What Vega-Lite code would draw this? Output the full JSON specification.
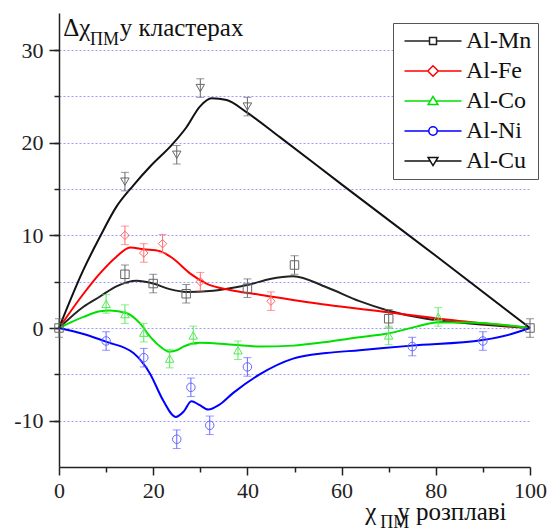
{
  "$schema": "https://vega.github.io/schema/vega-lite/v6.json",
  "width": 471,
  "height": 454,
  "autosize": {"type": "none"},
  "padding": {"left": 59, "top": 13, "right": 18, "bottom": 62},
  "background": "white",
  "config": {"view": {"stroke": null}, "font": "Liberation Serif, DejaVu Serif, serif"},
  "datasets": {
    "pts": [
      {"s": "Al-Mn", "x": 0, "y": 0, "e": 1},
      {"s": "Al-Mn", "x": 14, "y": 5.8, "e": 1},
      {"s": "Al-Mn", "x": 20, "y": 4.8, "e": 1},
      {"s": "Al-Mn", "x": 27, "y": 3.7, "e": 1},
      {"s": "Al-Mn", "x": 40, "y": 4.3, "e": 1},
      {"s": "Al-Mn", "x": 50, "y": 6.8, "e": 1},
      {"s": "Al-Mn", "x": 70, "y": 1.0, "e": 1},
      {"s": "Al-Mn", "x": 100, "y": 0, "e": 1},
      {"s": "Al-Fe", "x": 14, "y": 10.0, "e": 1},
      {"s": "Al-Fe", "x": 18, "y": 8.1, "e": 1},
      {"s": "Al-Fe", "x": 22, "y": 9.1, "e": 1},
      {"s": "Al-Fe", "x": 30, "y": 5.0, "e": 1},
      {"s": "Al-Fe", "x": 45, "y": 2.9, "e": 1},
      {"s": "Al-Co", "x": 10, "y": 2.6, "e": 1},
      {"s": "Al-Co", "x": 14, "y": 1.5, "e": 1},
      {"s": "Al-Co", "x": 18, "y": -0.5, "e": 1},
      {"s": "Al-Co", "x": 23.5, "y": -3.3, "e": 1},
      {"s": "Al-Co", "x": 28.5, "y": -0.8, "e": 1},
      {"s": "Al-Co", "x": 38, "y": -2.4, "e": 1},
      {"s": "Al-Co", "x": 70, "y": -0.8, "e": 1},
      {"s": "Al-Co", "x": 80.5, "y": 1.2, "e": 1},
      {"s": "Al-Ni", "x": 10, "y": -1.4, "e": 1},
      {"s": "Al-Ni", "x": 18, "y": -3.2, "e": 1},
      {"s": "Al-Ni", "x": 25, "y": -12.0, "e": 1},
      {"s": "Al-Ni", "x": 28, "y": -6.4, "e": 1},
      {"s": "Al-Ni", "x": 32, "y": -10.5, "e": 1},
      {"s": "Al-Ni", "x": 40, "y": -4.2, "e": 1},
      {"s": "Al-Ni", "x": 75, "y": -2.0, "e": 1},
      {"s": "Al-Ni", "x": 90, "y": -1.4, "e": 1},
      {"s": "Al-Cu", "x": 14, "y": 15.8, "e": 1},
      {"s": "Al-Cu", "x": 25, "y": 18.7, "e": 1},
      {"s": "Al-Cu", "x": 30, "y": 25.9, "e": 1},
      {"s": "Al-Cu", "x": 40, "y": 23.9, "e": 1}
    ],
    "curves": [
      {"s": "Al-Mn", "x": 0, "y": 0}, {"s": "Al-Mn", "x": 5.2, "y": 2.3}, {"s": "Al-Mn", "x": 8.7, "y": 3.4},
      {"s": "Al-Mn", "x": 12.2, "y": 4.5}, {"s": "Al-Mn", "x": 16.5, "y": 5.1},
      {"s": "Al-Mn", "x": 20, "y": 4.8}, {"s": "Al-Mn", "x": 23.5, "y": 4.2}, {"s": "Al-Mn", "x": 27.1, "y": 3.9},
      {"s": "Al-Mn", "x": 32, "y": 4.0}, {"s": "Al-Mn", "x": 36.3, "y": 4.3}, {"s": "Al-Mn", "x": 40.5, "y": 4.7},
      {"s": "Al-Mn", "x": 44.8, "y": 5.3}, {"s": "Al-Mn", "x": 49.7, "y": 5.6}, {"s": "Al-Mn", "x": 56.8, "y": 4.4},
      {"s": "Al-Mn", "x": 63.8, "y": 2.9}, {"s": "Al-Mn", "x": 69.8, "y": 1.9}, {"s": "Al-Mn", "x": 78, "y": 1.0},
      {"s": "Al-Mn", "x": 85, "y": 0.6}, {"s": "Al-Mn", "x": 100, "y": 0},
      {"s": "Al-Fe", "x": 0, "y": 0}, {"s": "Al-Fe", "x": 5.2, "y": 3.7}, {"s": "Al-Fe", "x": 8.7, "y": 5.9},
      {"s": "Al-Fe", "x": 12.2, "y": 7.7}, {"s": "Al-Fe", "x": 15.1, "y": 8.7},
      {"s": "Al-Fe", "x": 17.9, "y": 8.5}, {"s": "Al-Fe", "x": 21.4, "y": 8.3}, {"s": "Al-Fe", "x": 24.2, "y": 7.5},
      {"s": "Al-Fe", "x": 27.8, "y": 5.9}, {"s": "Al-Fe", "x": 31.3, "y": 4.8}, {"s": "Al-Fe", "x": 36.3, "y": 4.1},
      {"s": "Al-Fe", "x": 42.6, "y": 3.6}, {"s": "Al-Fe", "x": 56.8, "y": 2.5}, {"s": "Al-Fe", "x": 69.8, "y": 1.7},
      {"s": "Al-Fe", "x": 80.8, "y": 1.0}, {"s": "Al-Fe", "x": 92, "y": 0.4}, {"s": "Al-Fe", "x": 100, "y": 0},
      {"s": "Al-Co", "x": 0, "y": 0}, {"s": "Al-Co", "x": 5.2, "y": 1.2}, {"s": "Al-Co", "x": 8.7, "y": 1.8},
      {"s": "Al-Co", "x": 10.8, "y": 1.9}, {"s": "Al-Co", "x": 14.4, "y": 1.6}, {"s": "Al-Co", "x": 17.2, "y": 0.5},
      {"s": "Al-Co", "x": 19.3, "y": -0.9}, {"s": "Al-Co", "x": 21.5, "y": -2.0},
      {"s": "Al-Co", "x": 23.4, "y": -2.55}, {"s": "Al-Co", "x": 25, "y": -2.4}, {"s": "Al-Co", "x": 26.4, "y": -2.0},
      {"s": "Al-Co", "x": 29.9, "y": -1.6}, {"s": "Al-Co", "x": 37, "y": -1.8}, {"s": "Al-Co", "x": 42.6, "y": -2.0},
      {"s": "Al-Co", "x": 49.7, "y": -1.9}, {"s": "Al-Co", "x": 56.8, "y": -1.5}, {"s": "Al-Co", "x": 63.8, "y": -1.0},
      {"s": "Al-Co", "x": 69.8, "y": -0.6}, {"s": "Al-Co", "x": 75.9, "y": 0.15}, {"s": "Al-Co", "x": 80.1, "y": 0.6},
      {"s": "Al-Co", "x": 86.5, "y": 0.6}, {"s": "Al-Co", "x": 100, "y": 0},
      {"s": "Al-Ni", "x": 0, "y": 0}, {"s": "Al-Ni", "x": 5.2, "y": -0.65}, {"s": "Al-Ni", "x": 10.1, "y": -1.5},
      {"s": "Al-Ni", "x": 15.8, "y": -2.7}, {"s": "Al-Ni", "x": 19.3, "y": -4.9}, {"s": "Al-Ni", "x": 22.1, "y": -7.8},
      {"s": "Al-Ni", "x": 24.8, "y": -9.6}, {"s": "Al-Ni", "x": 26.5, "y": -9.0}, {"s": "Al-Ni", "x": 28.1, "y": -7.9},
      {"s": "Al-Ni", "x": 29.8, "y": -8.3}, {"s": "Al-Ni", "x": 31.7, "y": -8.8}, {"s": "Al-Ni", "x": 34, "y": -8.3},
      {"s": "Al-Ni", "x": 37, "y": -7.0}, {"s": "Al-Ni", "x": 42.6, "y": -5.0}, {"s": "Al-Ni", "x": 49.7, "y": -3.3},
      {"s": "Al-Ni", "x": 56.8, "y": -2.7}, {"s": "Al-Ni", "x": 63.8, "y": -2.4}, {"s": "Al-Ni", "x": 74.9, "y": -1.9},
      {"s": "Al-Ni", "x": 89.9, "y": -1.3}, {"s": "Al-Ni", "x": 96.4, "y": -0.6}, {"s": "Al-Ni", "x": 100, "y": 0},
      {"s": "Al-Cu", "x": 0, "y": 0}, {"s": "Al-Cu", "x": 5.2, "y": 6.3}, {"s": "Al-Cu", "x": 8.7, "y": 9.85},
      {"s": "Al-Cu", "x": 12.2, "y": 13.1}, {"s": "Al-Cu", "x": 15.8, "y": 15.4}, {"s": "Al-Cu", "x": 19.3, "y": 17.4},
      {"s": "Al-Cu", "x": 24.2, "y": 19.9}, {"s": "Al-Cu", "x": 27.1, "y": 21.7}, {"s": "Al-Cu", "x": 29.9, "y": 23.9},
      {"s": "Al-Cu", "x": 32.4, "y": 24.8}, {"s": "Al-Cu", "x": 35.6, "y": 24.6}, {"s": "Al-Cu", "x": 39.8, "y": 23.3},
      {"s": "Al-Cu", "x": 46.9, "y": 20.6}, {"s": "Al-Cu", "x": 60, "y": 15.5}, {"s": "Al-Cu", "x": 80, "y": 7.8},
      {"s": "Al-Cu", "x": 100, "y": 0}
    ]
  },
  "resolve": {
    "scale": {"color": "independent", "shape": "independent"},
    "axis": {"x": "independent", "y": "independent"}
  },
  "layer": [
    {
      "data": {"name": "curves"},
      "mark": {"type": "line", "interpolate": "monotone", "strokeWidth": 2},
      "encoding": {
        "x": {"field": "x", "type": "quantitative", "scale": {"domain": [0, 100], "nice": false, "zero": false},
          "axis": {"orient": "bottom", "values": [0, 20, 40, 60, 80, 100], "title": null, "grid": false,
            "tickSize": 8, "tickWidth": 1.5, "tickColor": "#222", "domainColor": "#222", "domainWidth": 1.5,
            "labelFont": "Liberation Serif, DejaVu Serif, serif", "labelFontSize": 22, "labelColor": "#222", "labelPadding": 5, "labelFlush": false}},
        "y": {"field": "y", "type": "quantitative", "scale": {"domain": [-15, 34], "nice": false, "zero": false},
          "axis": {"orient": "left", "values": [-10, 0, 10, 20, 30], "title": null, "grid": false,
            "tickSize": 10, "tickWidth": 1.5, "tickColor": "#222", "domainColor": "#222", "domainWidth": 1.5,
            "labelFont": "Liberation Serif, DejaVu Serif, serif", "labelFontSize": 22, "labelColor": "#222", "labelPadding": 6,
            "labelExpr": "'' + datum.value"}},
        "color": {"field": "s", "type": "nominal", "legend": null,
          "scale": {"domain": ["Al-Mn", "Al-Fe", "Al-Co", "Al-Ni", "Al-Cu"], "range": ["#222222", "#ff0000", "#00e000", "#0000ff", "#111111"]}},
        "detail": {"field": "s"}
      }
    },
    {
      "data": {"name": "pts"},
      "mark": {"type": "errorbar", "ticks": {"size": 8}, "thickness": 1},
      "encoding": {
        "x": {"field": "x", "type": "quantitative",
          "axis": {"orient": "bottom", "values": [10, 30, 50, 70, 90], "title": null, "labels": false, "domain": false, "grid": false,
            "tickSize": 5, "tickWidth": 1.5, "tickColor": "#222"}},
        "y": {"field": "y", "type": "quantitative",
          "axis": {"orient": "left", "values": [-10, -5, 0, 5, 10, 15, 20, 25, 30], "title": null, "labels": false, "domain": false,
            "grid": true, "gridColor": "#9a9aff", "gridDash": [2, 2], "gridWidth": 1,
            "tickSize": 5, "tickWidth": 1.5, "tickColor": "#222"}},
        "yError": {"field": "e"},
        "color": {"field": "s", "type": "nominal", "legend": null,
          "scale": {"domain": ["Al-Mn", "Al-Fe", "Al-Co", "Al-Ni", "Al-Cu"], "range": ["#666666", "#ff6b6b", "#55e855", "#6666ff", "#666666"]}}
      }
    },
    {
      "data": {"name": "pts"},
      "mark": {"type": "point", "filled": false, "size": 72, "strokeWidth": 1, "opacity": 1, "fill": "white", "fillOpacity": 0},
      "encoding": {
        "x": {"field": "x", "type": "quantitative", "axis": null},
        "y": {"field": "y", "type": "quantitative", "axis": null},
        "color": {"field": "s", "type": "nominal", "legend": null,
          "scale": {"domain": ["Al-Mn", "Al-Fe", "Al-Co", "Al-Ni", "Al-Cu"], "range": ["#666666", "#ff6b6b", "#55e855", "#6666ff", "#666666"]}},
        "shape": {"field": "s", "type": "nominal", "legend": null,
          "scale": {"domain": ["Al-Mn", "Al-Fe", "Al-Co", "Al-Ni", "Al-Cu"], "range": ["square", "diamond", "triangle-up", "circle", "triangle-down"]}}
      }
    },
    {
      "data": {"name": "pts"},
      "mark": {"type": "point", "filled": false, "opacity": 0, "strokeWidth": 1.5},
      "encoding": {
        "color": {"field": "s", "type": "nominal",
          "scale": {"domain": ["Al-Mn", "Al-Fe", "Al-Co", "Al-Ni", "Al-Cu"], "range": ["#222222", "#ff0000", "#00e000", "#0000ff", "#111111"]},
          "legend": {"title": null, "orient": "none", "legendX": 334, "legendY": 10, "padding": 6,
            "fillColor": "white", "strokeColor": "#555", "symbolSize": 49, "symbolStrokeWidth": 1.5, "symbolOpacity": 1,
            "labelFont": "Liberation Serif, DejaVu Serif, serif", "labelFontSize": 24, "labelColor": "#111", "labelOffset": 43, "rowPadding": 6,
            "labelLimit": 200}},
        "shape": {"field": "s", "type": "nominal",
          "scale": {"domain": ["Al-Mn", "Al-Fe", "Al-Co", "Al-Ni", "Al-Cu"],
            "range": [
              "M-1.86,0L5.29,0M7.29,0L14.44,0M5.29,-1L7.29,-1L7.29,1L5.29,1Z",
              "M-1.86,0L4.79,0M7.79,0L14.44,0M4.79,0L6.29,-1.5L7.79,0L6.29,1.5Z",
              "M-1.86,0L5.5,0M7.08,0L14.44,0M6.29,-1.3L7.69,1L4.89,1Z",
              "M-1.86,0L5.09,0M7.49,0L14.44,0M5.09,0A1.2,1.2,0,1,0,7.49,0A1.2,1.2,0,1,0,5.09,0Z",
              "M-1.86,0L5.5,0M7.08,0L14.44,0M4.89,-1L7.69,-1L6.29,1.3Z"
            ]},
          "legend": {"title": null, "orient": "none", "legendX": 334, "legendY": 10, "padding": 6,
            "fillColor": "white", "strokeColor": "#555", "symbolSize": 49, "symbolStrokeWidth": 1.5, "symbolOpacity": 1,
            "labelFont": "Liberation Serif, DejaVu Serif, serif", "labelFontSize": 24, "labelColor": "#111", "labelOffset": 43, "rowPadding": 6,
            "labelLimit": 200}}
      }
    },
    {
      "data": {"values": [
        {"x": 0.9, "y": 31.5, "t": "Δχ"},
        {"x": 12.9, "y": 31.5, "t": "у кластерах"},
        {"x": 65.0, "y": -20.7, "t": "χ"},
        {"x": 71.8, "y": -20.7, "t": "у розплаві"}
      ]},
      "mark": {"type": "text", "align": "left", "baseline": "alphabetic", "font": "Liberation Serif, DejaVu Serif, serif", "fontSize": 25, "color": "#111"},
      "encoding": {
        "x": {"field": "x", "type": "quantitative", "axis": null},
        "y": {"field": "y", "type": "quantitative", "axis": null},
        "text": {"field": "t"}
      }
    },
    {
      "data": {"values": [
        {"x": 6.6, "y": 30.55, "t": "ПМ"},
        {"x": 68.2, "y": -21.6, "t": "ПМ"}
      ]},
      "mark": {"type": "text", "align": "left", "baseline": "alphabetic", "font": "Liberation Serif, DejaVu Serif, serif", "fontSize": 18, "color": "#111"},
      "encoding": {
        "x": {"field": "x", "type": "quantitative", "axis": null},
        "y": {"field": "y", "type": "quantitative", "axis": null},
        "text": {"field": "t"}
      }
    }
  ]
}
